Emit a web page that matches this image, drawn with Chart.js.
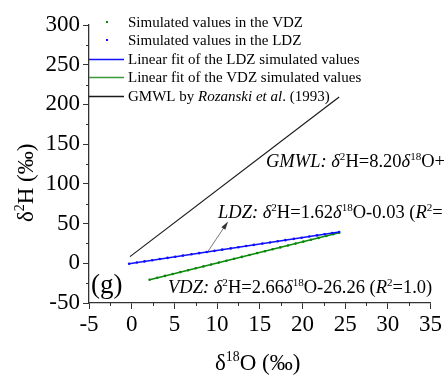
<!DOCTYPE html>
<html>
<head>
<meta charset="utf-8">
<script src="https://cdn.jsdelivr.net/npm/chart.js@4.4.1/dist/chart.umd.min.js"></script>
<style>
  html, body { margin: 0; padding: 0; background: #fff; }
</style>
</head>
<body>
<canvas id="mycanvas" width="444" height="379"></canvas>
<script>
// simulated values, LDZ (d18O, d2H)
var ldzO = [-0.3, 0.6, 1.5, 2.4, 3.3, 4.2, 5.1, 6.0, 7.0, 7.9, 8.8, 9.7, 10.6, 11.6, 12.5, 13.4, 14.3, 15.3, 16.2, 17.1, 18.0, 19.0, 19.9, 20.8, 21.7, 22.6, 23.5, 24.3];
var ldzH = [-0.52, 0.94, 2.40, 3.86, 5.32, 6.77, 8.23, 9.69, 11.31, 12.77, 14.23, 15.68, 17.14, 18.76, 20.22, 21.68, 23.14, 24.76, 26.21, 27.67, 29.13, 30.75, 32.21, 33.67, 35.13, 36.58, 38.04, 39.34];
// simulated values, VDZ
var vdzO = [2.1, 3.0, 3.9, 4.8, 5.7, 6.6, 7.5, 8.4, 9.3, 10.2, 11.1, 12.0, 12.9, 13.8, 14.7, 15.6, 16.5, 17.4, 18.3, 19.2, 20.1, 21.0, 21.9, 22.8, 23.6, 24.3];
var vdzH = [-20.67, -18.28, -15.89, -13.49, -11.10, -8.70, -6.31, -3.92, -1.52, 0.87, 3.27, 5.66, 8.05, 10.45, 12.84, 15.24, 17.63, 20.02, 22.42, 24.81, 27.21, 29.60, 31.99, 34.39, 36.52, 38.38];
// fitted lines and GMWL end points
var ldzFitO = [-0.3, 24.3];
var ldzFitH = [-0.52, 39.34];
var vdzFitO = [2.1, 24.3];
var vdzFitH = [-20.67, 38.38];
var gmwlO = [-0.2, 24.3];
var gmwlH = [8.36, 209.26];

var xMin = -5, xMax = 35, xStep = 5;
var yMin = -50, yMax = 300, yStep = 50;

var BLUE = '#1010ff', GREEN = '#0a8a0a', BLACK = '#1a1a1a', AXIS = '#333';
var SERIF = '"Liberation Serif", "Times New Roman", serif';

function pts(xs, ys) {
  var out = [];
  for (var i = 0; i < xs.length; i++) out.push({ x: xs[i], y: ys[i] });
  return out;
}

// text with italic / superscript pieces, left aligned at x, alphabetic baseline y
function rich(ctx, x, y, parts, size) {
  for (var i = 0; i < parts.length; i++) {
    var p = parts[i];
    var s = p.sup ? size * 0.6 : size;
    ctx.font = (p.i ? 'italic ' : '') + s + 'px ' + SERIF;
    ctx.fillText(p.t, x, p.sup ? y - size * 0.38 : y);
    x += ctx.measureText(p.t).width;
  }
  return x;
}

var extras = {
  id: 'extras',
  afterDraw: function(chart) {
    var ctx = chart.ctx;
    var xs = chart.scales.x, ys = chart.scales.y;
    ctx.save();
    ctx.fillStyle = '#000';
    ctx.textBaseline = 'alphabetic';
    ctx.textAlign = 'left';

    // minor ticks
    ctx.strokeStyle = AXIS;
    ctx.lineWidth = 1;
    ctx.beginPath();
    for (var v = xMin + xStep / 2; v < xMax; v += xStep) {
      var px = Math.round(xs.getPixelForValue(v)) + 0.5;
      ctx.moveTo(px, ys.bottom);
      ctx.lineTo(px, ys.bottom + 3);
    }
    for (var w = yMin + yStep / 2; w < yMax; w += yStep) {
      var py = Math.round(ys.getPixelForValue(w)) + 0.5;
      ctx.moveTo(xs.left, py);
      ctx.lineTo(xs.left - 3, py);
    }
    ctx.stroke();

    // legend
    var lx0 = xs.left, lx1 = xs.left + 35, tx = xs.left + 39;
    var rows = [
      { y: 22, dot: GREEN, parts: [{ t: 'Simulated values in the VDZ' }] },
      { y: 40, dot: BLUE, parts: [{ t: 'Simulated values in the LDZ' }] },
      { y: 59, line: BLUE, parts: [{ t: 'Linear fit of the LDZ simulated values' }] },
      { y: 77, line: '#3a9a3a', parts: [{ t: 'Linear fit of the VDZ simulated values' }] },
      { y: 96, line: BLACK, parts: [{ t: 'GMWL by ' }, { t: 'Rozanski et al', i: 1 }, { t: '. (1993)' }] }
    ];
    rows.forEach(function(r) {
      if (r.dot) {
        ctx.fillStyle = r.dot;
        ctx.fillRect(lx0 + 17, r.y - 1, 2, 2);
      } else {
        ctx.strokeStyle = r.line;
        ctx.lineWidth = 1.3;
        ctx.beginPath();
        ctx.moveTo(lx0, r.y + 0.5);
        ctx.lineTo(lx1, r.y + 0.5);
        ctx.stroke();
      }
      ctx.fillStyle = '#000';
      rich(ctx, tx, r.y + 5, r.parts, 15);
    });

    // equations
    rich(ctx, 266, 167, [
      { t: 'GMWL: ', i: 1 }, { t: '\u03b4', i: 1 }, { t: '2', sup: 1 }, { t: 'H=8.20' },
      { t: '\u03b4', i: 1 }, { t: '18', sup: 1 }, { t: 'O+10 (' }, { t: 'R', i: 1 }, { t: '2', sup: 1 }, { t: '=1.0)' }
    ], 18.5);
    rich(ctx, 218, 218, [
      { t: 'LDZ: ', i: 1 }, { t: '\u03b4', i: 1 }, { t: '2', sup: 1 }, { t: 'H=1.62' },
      { t: '\u03b4', i: 1 }, { t: '18', sup: 1 }, { t: 'O-0.03 (' }, { t: 'R', i: 1 }, { t: '2', sup: 1 }, { t: '=1.0)' }
    ], 18.5);
    rich(ctx, 168, 293, [
      { t: 'VDZ: ', i: 1 }, { t: '\u03b4', i: 1 }, { t: '2', sup: 1 }, { t: 'H=2.66' },
      { t: '\u03b4', i: 1 }, { t: '18', sup: 1 }, { t: 'O-26.26 (' }, { t: 'R', i: 1 }, { t: '2', sup: 1 }, { t: '=1.0)' }
    ], 18.5);

    // panel letter
    ctx.font = '27px ' + SERIF;
    ctx.fillText('(g)', 91, 293);

    // arrow from the LDZ line to its equation
    var ax0 = xs.getPixelForValue(8.9), ay0 = ys.getPixelForValue(14.4);
    var ax1 = 227, ay1 = 223;
    ctx.strokeStyle = '#555';
    ctx.fillStyle = '#333';
    ctx.lineWidth = 0.8;
    ctx.beginPath();
    ctx.moveTo(ax0, ay0);
    ctx.lineTo(ax1, ay1);
    ctx.stroke();
    var ang = Math.atan2(ay1 - ay0, ax1 - ax0);
    ctx.beginPath();
    ctx.moveTo(ax1 + 1, ay1 - 1.5);
    ctx.lineTo(ax1 - 7 * Math.cos(ang - 0.35), ay1 - 7 * Math.sin(ang - 0.35));
    ctx.lineTo(ax1 - 7 * Math.cos(ang + 0.35), ay1 - 7 * Math.sin(ang + 0.35));
    ctx.closePath();
    ctx.fill();

    // axis titles
    ctx.fillStyle = '#000';
    rich(ctx, 215, 370, [
      { t: '\u03b4' }, { t: '18', sup: 1 }, { t: 'O (\u2030)' }
    ], 23);
    ctx.translate(33, 222);
    ctx.rotate(-Math.PI / 2);
    rich(ctx, 0, 0, [
      { t: '\u03b4' }, { t: '2', sup: 1 }, { t: 'H (\u2030)' }
    ], 23);
    ctx.restore();
  }
};

var ctx = document.getElementById('mycanvas');

var chartdata = {
  datasets: [
    {
      label: 'Linear fit of the LDZ simulated values',
      type: 'line',
      data: pts(ldzFitO, ldzFitH),
      borderColor: BLUE,
      borderWidth: 1.4,
      pointRadius: 0,
      fill: false
    },
    {
      label: 'Linear fit of the VDZ simulated values',
      type: 'line',
      data: pts(vdzFitO, vdzFitH),
      borderColor: GREEN,
      borderWidth: 1.4,
      pointRadius: 0,
      fill: false
    },
    {
      label: 'GMWL by Rozanski et al. (1993)',
      type: 'line',
      data: pts(gmwlO, gmwlH),
      borderColor: BLACK,
      borderWidth: 1.2,
      pointRadius: 0,
      fill: false
    },
    {
      label: 'Simulated values in the LDZ',
      data: pts(ldzO, ldzH),
      backgroundColor: BLUE,
      borderWidth: 0,
      pointRadius: 1.3
    },
    {
      label: 'Simulated values in the VDZ',
      data: pts(vdzO, vdzH),
      backgroundColor: GREEN,
      borderWidth: 0,
      pointRadius: 1.3
    }
  ]
};

var tickFont = { family: SERIF, size: 23 };

var chart = new Chart(ctx, {
  type: 'scatter',
  data: chartdata,
  options: {
    responsive: false,
    animation: false,
    layout: { padding: { left: 0, top: 25, right: 12, bottom: 0 } },
    plugins: { legend: { display: false }, tooltip: { enabled: false } },
    scales: {
      x: {
        type: 'linear',
        min: xMin,
        max: xMax,
        ticks: { stepSize: xStep, color: '#000', font: tickFont, padding: 2, maxRotation: 0 },
        grid: { drawOnChartArea: false, tickLength: 6, tickColor: AXIS },
        border: { color: AXIS, width: 1.3 },
        afterFit: function(s) { s.height = 76; }
      },
      y: {
        type: 'linear',
        min: yMin,
        max: yMax,
        ticks: { stepSize: yStep, color: '#000', font: tickFont, padding: 3 },
        grid: { drawOnChartArea: false, tickLength: 6, tickColor: AXIS },
        border: { color: AXIS, width: 1.3 },
        afterFit: function(s) { s.width = 89; }
      }
    }
  },
  plugins: [extras]
});
</script>
</body>
</html>
